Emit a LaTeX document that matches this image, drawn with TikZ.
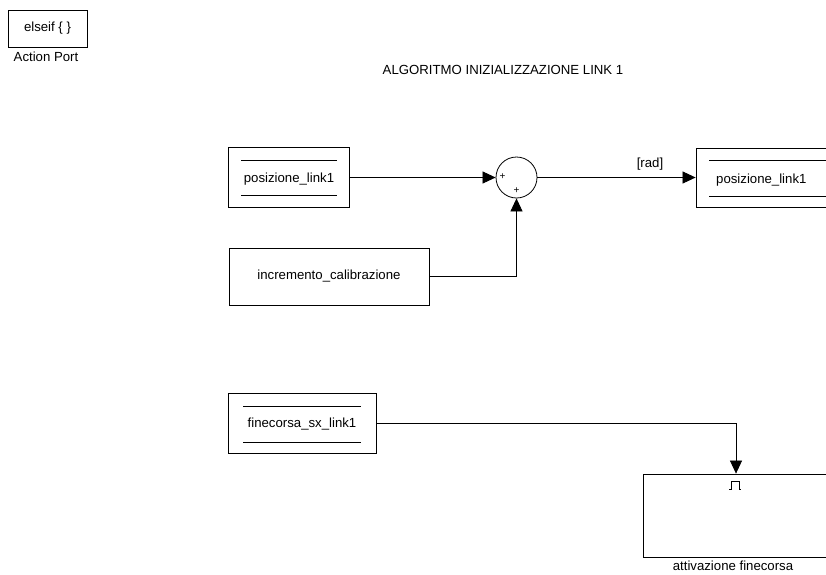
\documentclass[tikz,border=0pt]{standalone}
\usepackage{fontspec}
\setmainfont{Liberation Sans}
\usetikzlibrary{arrows.meta,calc}
\begin{document}
\begin{tikzpicture}[x=1pt,y=-1pt,
  font=\fontsize{13.2}{15}\selectfont,
  blk/.style={draw=black, line width=0.8pt, rectangle, inner sep=0pt},
  sig/.style={draw=black, line width=0.7pt},
  tip/.style={-{Triangle[length=13pt,width=12pt]}},
  rule/.style={draw=black, line width=0.7pt}]
\useasboundingbox (0,0) rectangle (826,574);
\clip (0,0) rectangle (826,574);

% action port
\node[blk, minimum width=79pt, minimum height=37pt] (act) at (47.5,28.5) {elseif \{ \}};
\node (actlbl) at (46,57) {Action Port};

% title
\node (title) at (503,70) {ALGORITMO INIZIALIZZAZIONE LINK 1};

% From block: posizione_link1
\node[blk, minimum width=121pt, minimum height=60pt] (pos) at (288.5,177) {};
\node (postxt) at (289,179) {posizione\_link1};
\draw[rule] (241,160) -- (337,160);
\draw[rule] (241,195) -- (337,195);

% sum
\node[draw=black, line width=0.8pt, circle, minimum size=41pt, inner sep=0pt] (sum) at (516.5,177.5) {};
\node[font=\fontsize{10}{11}\selectfont, inner sep=0pt] (plA) at (502.5,177) {+};
\node[font=\fontsize{10}{11}\selectfont, inner sep=0pt] (plB) at (516.5,190.5) {+};

% Goto block: posizione_link1
\node[blk, minimum width=138pt, minimum height=59pt] (posR) at (765,177.5) {};
\node[anchor=west, inner sep=0pt] (posRtxt) at (716,180) {posizione\_link1};
\draw[rule] (709,160) -- (830,160);
\draw[rule] (709,196) -- (830,196);

% constant
\node[blk, minimum width=200pt, minimum height=57pt] (inc) at (329,276.5) {incremento\_calibrazione};

% From block: finecorsa_sx_link1
\node[blk, minimum width=148pt, minimum height=60pt] (fine) at (302,423) {};
\node (finetxt) at (302,424) {finecorsa\_sx\_link1};
\draw[rule] (243,406) -- (361,406);
\draw[rule] (243,442) -- (361,442);

% triggered subsystem
\node[blk, minimum width=187pt, minimum height=83pt] (trig) at (736.5,515.5) {};
\node[inner sep=0pt] (triglbl) at (733,566) {attivazione finecorsa};
\draw[line width=0.7pt] (729,489) -- (731,489) -- (731,481) -- (739,481) -- (739,489) -- (741,489);

% connectors
\draw[sig, tip] (pos.east |- 0,177.5) -- (sum.west);
\draw[sig, tip] (sum.east) -- (posR.west |- 0,177.5);
\node[inner sep=0pt] (radlbl) at (650,164) {[rad]};
\draw[sig, tip] (inc.east) -| (sum.south);
\draw[sig, tip] (fine.east) -| (trig.north -| 736,0);
\end{tikzpicture}
\end{document}
